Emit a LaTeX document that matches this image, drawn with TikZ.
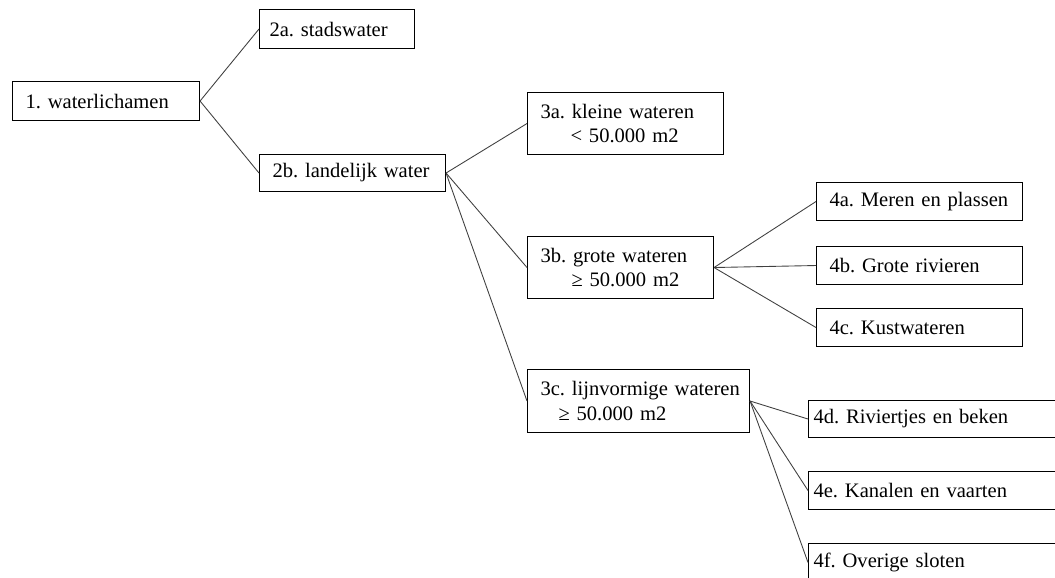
\documentclass[tikz,border=0pt]{standalone}
\usepackage{fontspec}
\setmainfont{Liberation Serif}
\usepackage{tikz}
\frenchspacing
\tikzstyle{waterelement}=[draw,anchor=north west,align=left,inner xsep=0.26cm,inner ysep=0cm,minimum height=0.76cm,line width=0.6pt,font=\fontsize{11.7pt}{14.2pt}\selectfont]
\tikzstyle{tallelement}=[waterelement,minimum height=1.24cm]
\tikzstyle{narrowpad}=[inner xsep=0.1cm]
\tikzstyle{wateredge}=[black!75,line width=0.5pt]
\begin{document}
\begin{tikzpicture}

\useasboundingbox (0cm,0cm) rectangle (21.1cm,-11.56cm);

\node[waterelement,text width=3.22cm,minimum height=0.78cm] (W1) at (0.24cm,-1.62cm) {\mbox{1. waterlichamen}};

\node[waterelement,text width=2.7cm,inner xsep=0.2cm,minimum height=0.78cm] (W2a) at (5.18cm,-0.18cm) {\mbox{2a. stadswater}};
\node[waterelement,text width=3.2cm,minimum height=0.74cm] (W2b) at (5.18cm,-3.08cm) {\mbox{2b. landelijk water}};

\node[tallelement,text width=3.4cm] (W3a) at (10.54cm,-1.84cm) {\mbox{3a. kleine wateren} \\ \hspace*{0.6cm}\mbox{< 50.000 m2}};
\node[tallelement,text width=3.2cm] (W3b) at (10.54cm,-4.72cm) {\mbox{3b. grote wateren} \\ \hspace*{0.62cm}\mbox{≥ 50.000 m2}};
\node[tallelement,text width=3.92cm,minimum height=1.26cm] (W3c) at (10.54cm,-7.38cm) {\mbox{3c. lijnvormige wateren} \\ \hspace*{0.36cm}\mbox{≥ 50.000 m2}};

\node[waterelement,text width=3.6cm] (W4a) at (16.32cm,-3.64cm) {\mbox{4a. Meren en plassen}};
\node[waterelement,text width=3.6cm] (W4b) at (16.32cm,-4.92cm) {\mbox{4b. Grote rivieren}};
\node[waterelement,text width=3.6cm] (W4c) at (16.32cm,-6.16cm) {\mbox{4c. Kustwateren}};

\node[waterelement,narrowpad,text width=4.94cm,minimum height=0.74cm] (W4d) at (16.16cm,-8.0cm) {\mbox{4d. Riviertjes en beken}};
\node[waterelement,narrowpad,text width=4.94cm] (W4e) at (16.16cm,-9.42cm) {\mbox{4e. Kanalen en vaarten}};
\node[waterelement,narrowpad,text width=4.94cm] (W4f) at (16.16cm,-10.86cm) {\mbox{4f. Overige sloten}};

\draw[wateredge] (W1.east) -- (W2a.west);
\draw[wateredge] (W1.east) -- (W2b.west);

\draw[wateredge] (W2b.east) -- (W3a.west);
\draw[wateredge] (W2b.east) -- (W3b.west);
\draw[wateredge] (W2b.east) -- (W3c.west);

\draw[wateredge] (W3b.east) -- (W4a.west);
\draw[wateredge] (W3b.east) -- (W4b.west);
\draw[wateredge] (W3b.east) -- (W4c.west);

\draw[wateredge] (W3c.east) -- (W4d.west);
\draw[wateredge] (W3c.east) -- (W4e.west);
\draw[wateredge] (W3c.east) -- (W4f.west);

\end{tikzpicture}
\end{document}
